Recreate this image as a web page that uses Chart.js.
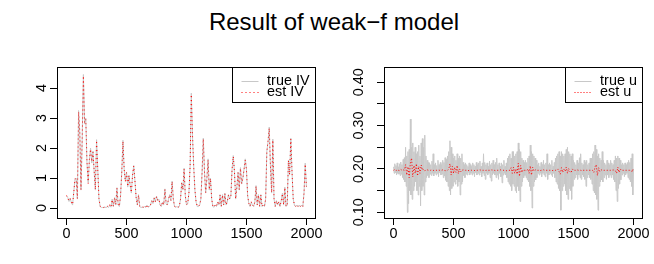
<!DOCTYPE html>
<html>
<head>
<meta charset="utf-8">
<script src="https://cdn.jsdelivr.net/npm/chart.js@4"></script>
<style>
body{margin:0;background:#fff;font-family:"Liberation Sans",Arial,sans-serif;}
#wrap{position:relative;width:654px;height:264px;}
#title{position:absolute;left:7px;top:8px;width:654px;text-align:center;font-size:24px;line-height:28px;color:#000;}
.panel{position:absolute;top:0;width:327px;height:264px;}
</style>
</head>
<body>
<div id="wrap">
  <div id="title">Result of weak−f model</div>
  <div class="panel" style="left:0"><canvas id="left" width="327" height="264"></canvas></div>
  <div class="panel" style="left:327px"><canvas id="right" width="327" height="264"></canvas></div>
</div>
<script>
// time index step between stored points
var ivStep = 10;
var uStep = 5;
var estUStep = 10;

var xTicks = [0, 500, 1000, 1500, 2000];
var xTickLabels = ["0", "500", "1000", "1500", "2000"];
var ivTicks = [0, 1, 2, 3, 4];
var ivTickLabels = ["0", "1", "2", "3", "4"];
var uTicks = [0.10, 0.15, 0.20, 0.25, 0.30, 0.35, 0.40];
var uTickLabels = ["0.10", "", "0.20", "", "0.30", "", "0.40"];

var trueIV = [
  0.40,0.35,0.22,0.33,0.18,0.10,0.55,0.95,1.00,0.30,
  3.25,2.50,0.60,2.30,4.45,2.80,3.00,1.50,0.85,1.60,
  2.00,1.50,1.90,1.20,0.60,2.28,1.30,0.30,0.05,0.02,
  0.02,0.02,0.03,0.02,0.05,0.02,0.10,0.03,0.30,0.05,
  0.35,0.10,0.68,0.12,0.05,0.40,1.20,2.26,1.30,0.90,
  1.20,0.70,1.10,0.75,0.50,1.10,1.42,0.90,0.35,0.10,
  0.45,0.05,0.02,0.03,0.02,0.05,0.02,0.10,0.03,0.05,
  0.10,0.25,0.15,0.35,0.20,0.40,0.25,0.30,0.10,0.05,
  0.20,0.10,0.64,0.15,0.10,0.30,0.45,0.25,0.90,0.30,
  0.05,0.03,0.05,0.02,0.05,0.30,0.85,0.60,1.33,0.40,
  0.10,0.15,0.50,1.40,3.83,2.40,1.40,0.60,0.20,0.05,
  0.05,0.10,0.30,1.20,2.33,1.20,0.50,1.00,1.64,0.60,
  1.00,0.30,0.05,0.03,0.10,0.05,0.20,0.10,0.45,0.05,
  0.45,0.10,0.50,0.10,0.20,0.45,0.30,0.40,1.30,1.75,
  1.20,0.30,0.70,1.20,0.60,1.35,0.80,1.00,1.30,1.64,
  1.30,0.40,0.15,0.05,0.20,0.10,0.05,0.20,0.75,0.10,
  0.45,0.05,0.45,0.05,0.10,0.05,0.30,1.90,2.20,2.70,
  1.40,0.50,2.30,0.30,0.05,0.25,0.10,0.20,0.05,0.25,
  0.50,0.10,0.70,0.05,0.10,1.60,1.10,2.33,1.20,0.30,
  0.10,0.05,0.10,0.05,0.10,0.05,0.10,0.05,0.50,1.50,0.70
];
var estIV = [
  0.42,0.33,0.24,0.31,0.20,0.12,0.52,0.98,0.96,0.32,
  3.20,2.55,0.62,2.25,4.40,2.85,2.95,1.55,0.82,1.62,
  1.96,1.55,1.86,1.24,0.62,2.25,1.28,0.32,0.06,0.03,
  0.03,0.02,0.04,0.03,0.06,0.03,0.11,0.04,0.28,0.06,
  0.33,0.12,0.66,0.13,0.06,0.42,1.18,2.22,1.32,0.88,
  1.18,0.72,1.08,0.78,0.52,1.08,1.40,0.92,0.36,0.11,
  0.43,0.06,0.03,0.04,0.03,0.06,0.03,0.11,0.04,0.06,
  0.11,0.24,0.16,0.33,0.21,0.38,0.26,0.29,0.11,0.06,
  0.21,0.11,0.62,0.16,0.11,0.29,0.44,0.26,0.88,0.31,
  0.06,0.04,0.06,0.03,0.06,0.29,0.83,0.62,1.30,0.42,
  0.11,0.16,0.48,1.38,3.78,2.45,1.38,0.62,0.21,0.06,
  0.06,0.11,0.31,1.18,2.30,1.22,0.52,0.98,1.60,0.62,
  0.98,0.31,0.06,0.04,0.11,0.06,0.21,0.11,0.43,0.06,
  0.43,0.11,0.48,0.11,0.21,0.43,0.31,0.41,1.28,1.72,
  1.22,0.31,0.68,1.18,0.62,1.32,0.82,0.98,1.28,1.60,
  1.28,0.42,0.16,0.06,0.21,0.11,0.06,0.21,0.73,0.11,
  0.43,0.06,0.43,0.06,0.11,0.06,0.29,1.86,2.24,2.66,
  1.42,0.52,2.26,0.31,0.06,0.24,0.11,0.21,0.06,0.24,
  0.48,0.11,0.68,0.06,0.11,1.58,1.12,2.30,1.22,0.31,
  0.11,0.06,0.11,0.06,0.11,0.06,0.11,0.06,0.48,1.46,0.72
];

var trueU = [
  0.205,0.19,0.212,0.192,0.208,0.186,0.214,0.19,0.205,0.188,
  0.212,0.185,0.216,0.188,0.21,0.18,0.222,0.176,0.226,0.17,
  0.25,0.16,0.23,0.10,0.24,0.12,0.245,0.15,0.315,0.14,
  0.25,0.13,0.26,0.15,0.24,0.16,0.25,0.17,0.235,0.15,
  0.24,0.14,0.255,0.16,0.23,0.115,0.26,0.15,0.27,0.16,
  0.25,0.14,0.278,0.17,0.23,0.18,0.22,0.185,0.215,0.18,
  0.214,0.188,0.21,0.185,0.218,0.19,0.235,0.184,0.21,0.19,
  0.214,0.186,0.208,0.19,0.22,0.182,0.21,0.192,0.215,0.186,
  0.21,0.188,0.22,0.18,0.215,0.184,0.226,0.174,0.222,0.17,
  0.23,0.16,0.24,0.15,0.265,0.14,0.25,0.155,0.235,0.16,
  0.225,0.17,0.23,0.165,0.22,0.175,0.235,0.16,0.225,0.17,
  0.23,0.14,0.225,0.165,0.235,0.17,0.215,0.185,0.21,0.18,
  0.214,0.188,0.21,0.186,0.206,0.192,0.214,0.186,0.21,0.19,
  0.206,0.186,0.214,0.19,0.21,0.182,0.206,0.192,0.215,0.186,
  0.21,0.19,0.214,0.186,0.218,0.192,0.206,0.182,0.214,0.19,
  0.235,0.185,0.215,0.176,0.21,0.19,0.214,0.186,0.206,0.19,
  0.218,0.18,0.21,0.172,0.214,0.186,0.22,0.19,0.21,0.186,
  0.215,0.18,0.225,0.186,0.21,0.176,0.214,0.19,0.206,0.182,
  0.214,0.168,0.21,0.186,0.22,0.19,0.206,0.186,0.214,0.18,
  0.225,0.17,0.23,0.165,0.235,0.16,0.225,0.15,0.24,0.165,
  0.24,0.16,0.23,0.15,0.235,0.145,0.24,0.16,0.26,0.15,
  0.245,0.125,0.24,0.16,0.225,0.17,0.22,0.18,0.215,0.185,
  0.22,0.18,0.215,0.175,0.225,0.17,0.23,0.16,0.255,0.15,
  0.24,0.11,0.235,0.16,0.23,0.17,0.225,0.175,0.22,0.18,
  0.21,0.19,0.214,0.186,0.206,0.19,0.215,0.182,0.21,0.19,
  0.22,0.186,0.21,0.182,0.214,0.19,0.235,0.176,0.21,0.186,
  0.214,0.19,0.21,0.186,0.22,0.182,0.206,0.19,0.215,0.18,
  0.225,0.17,0.23,0.165,0.235,0.155,0.24,0.15,0.23,0.105,
  0.24,0.15,0.235,0.16,0.23,0.165,0.235,0.15,0.245,0.14,
  0.25,0.13,0.24,0.155,0.235,0.15,0.23,0.13,0.235,0.16,
  0.22,0.176,0.215,0.18,0.21,0.186,0.22,0.176,0.214,0.186,
  0.226,0.18,0.235,0.176,0.214,0.186,0.21,0.182,0.22,0.176,
  0.215,0.16,0.22,0.18,0.21,0.186,0.214,0.18,0.225,0.176,
  0.225,0.165,0.235,0.15,0.24,0.145,0.255,0.14,0.245,0.13,
  0.23,0.105,0.235,0.16,0.225,0.17,0.22,0.175,0.24,0.17,
  0.22,0.18,0.214,0.186,0.21,0.176,0.22,0.186,0.214,0.18,
  0.21,0.186,0.22,0.18,0.214,0.186,0.21,0.176,0.22,0.17,
  0.23,0.15,0.225,0.125,0.23,0.155,0.225,0.165,0.22,0.175,
  0.21,0.186,0.214,0.19,0.21,0.182,0.214,0.186,0.21,0.19,
  0.215,0.18,0.22,0.176,0.215,0.17,0.225,0.16,0.235,0.14,
  0.20
];
var estU = [
  0.197,0.199,0.196,0.198,0.197,0.196,0.199,0.197,0.198,0.197,
  0.210,0.186,0.205,0.180,0.214,0.225,0.182,0.208,0.190,0.212,
  0.184,0.206,0.190,0.209,0.197,0.200,0.196,0.197,0.198,0.197,
  0.197,0.197,0.198,0.197,0.196,0.197,0.197,0.198,0.197,0.197,
  0.197,0.198,0.197,0.196,0.197,0.197,0.200,0.212,0.186,0.206,
  0.190,0.204,0.192,0.208,0.189,0.200,0.193,0.197,0.198,0.197,
  0.197,0.197,0.196,0.197,0.198,0.197,0.197,0.197,0.196,0.197,
  0.197,0.197,0.198,0.197,0.197,0.197,0.196,0.197,0.197,0.197,
  0.197,0.197,0.198,0.197,0.197,0.196,0.197,0.197,0.197,0.198,
  0.197,0.197,0.197,0.197,0.196,0.197,0.197,0.197,0.203,0.190,
  0.204,0.190,0.200,0.188,0.213,0.183,0.208,0.192,0.198,0.197,
  0.197,0.196,0.200,0.190,0.207,0.186,0.204,0.195,0.198,0.197,
  0.197,0.197,0.196,0.197,0.197,0.198,0.197,0.197,0.197,0.197,
  0.197,0.197,0.197,0.196,0.197,0.197,0.197,0.200,0.194,0.188,
  0.203,0.192,0.200,0.195,0.204,0.190,0.201,0.194,0.191,0.200,
  0.197,0.197,0.197,0.198,0.197,0.197,0.197,0.196,0.197,0.197,
  0.197,0.197,0.197,0.197,0.197,0.196,0.197,0.192,0.205,0.210,
  0.185,0.203,0.194,0.198,0.197,0.197,0.197,0.197,0.197,0.197,
  0.197,0.197,0.197,0.198,0.197,0.196,0.190,0.204,0.192,0.200,
  0.197,0.197,0.197,0.197,0.197,0.197,0.197,0.197,0.197,0.193,0.203
];

var FONT = "'Liberation Sans', Arial, sans-serif";

function pts(arr, step){
  return arr.map(function(v, i){ return {x: i * step, y: v}; });
}

// R style box round the plot region
var boxPlugin = {
  id: 'rbox',
  afterDraw: function(c){
    var a = c.chartArea, ctx = c.ctx;
    ctx.save();
    ctx.strokeStyle = '#000';
    ctx.lineWidth = 1;
    ctx.strokeRect(Math.round(a.left) + 0.5, Math.round(a.top) + 0.5,
                   Math.round(a.right - a.left) - 1, Math.round(a.bottom - a.top));
    ctx.restore();
  }
};

// legend in the top right corner, like legend("topright", ...)
var rLegend = {
  id: 'rlegend',
  afterDraw: function(c){
    var ctx = c.ctx, a = c.chartArea;
    var ds = c.data.datasets;
    ctx.save();
    ctx.font = "14.4px " + FONT;
    var tw = 0;
    ds.forEach(function(d){ tw = Math.max(tw, ctx.measureText(d.label).width); });
    var w = Math.round(34.6 + tw + 6), h = 35;
    var right = Math.round(a.right) - 0.5, top = Math.round(a.top) + 0.5;
    var left = right - w;
    ctx.fillStyle = '#fff';
    ctx.fillRect(left, top, w, h);
    ctx.strokeStyle = '#000';
    ctx.lineWidth = 1;
    ctx.strokeRect(left, top, w, h);
    var rows = [13.7, 24.7];
    ds.forEach(function(d, i){
      var y = top + rows[i];
      ctx.beginPath();
      ctx.strokeStyle = d.borderColor;
      ctx.setLineDash(d.borderDash || []);
      ctx.moveTo(left + 9, Math.round(y) + 0.5);
      ctx.lineTo(left + 26, Math.round(y) + 0.5);
      ctx.stroke();
      ctx.setLineDash([]);
      ctx.fillStyle = '#000';
      ctx.textBaseline = 'middle';
      ctx.textAlign = 'left';
      ctx.fillText(d.label, left + 34.6, y);
    });
    ctx.restore();
  }
};

function makePanel(id, trueData, estData, names, dash, yMin, yMax, yTicks, yLabels){
  var ctx = document.getElementById(id).getContext('2d');
  return new Chart(ctx, {
    type: 'line',
    data: {
      datasets: [{
        label: names[0],
        data: trueData,
        borderColor: '#c8c8c8',
        borderWidth: 1,
        pointRadius: 0,
        tension: 0,
        order: 2
      }, {
        label: names[1],
        data: estData,
        borderColor: '#ff0000',
        borderWidth: 1,
        borderDash: dash,
        pointRadius: 0,
        tension: 0,
        order: 1
      }]
    },
    options: {
      responsive: false,
      animation: false,
      layout: { padding: { top: 67, right: 11, left: 0, bottom: 0 } },
      plugins: { legend: { display: false }, tooltip: { enabled: false } },
      scales: {
        x: {
          type: 'linear',
          min: -80,
          max: 2080,
          afterBuildTicks: function(s){ s.ticks = xTicks.map(function(v){ return {value: v}; }); },
          afterFit: function(s){ s.height = 46; },
          grid: { drawOnChartArea: false, color: '#000', tickLength: 7 },
          border: { display: false },
          ticks: { color: '#000', font: { family: FONT, size: 14.4 }, padding: 0,
                   maxRotation: 0, autoSkip: false,
                   callback: function(v, i){ return xTickLabels[i]; } }
        },
        y: {
          min: yMin,
          max: yMax,
          afterBuildTicks: function(s){ s.ticks = yTicks.map(function(v){ return {value: v}; }); },
          afterFit: function(s){ s.width = 57; },
          grid: { drawOnChartArea: false, color: '#000', tickLength: 7 },
          border: { display: false },
          ticks: { color: '#000', font: { family: FONT, size: 14.4 }, padding: 4,
                   minRotation: 90, maxRotation: 90, crossAlign: 'center', autoSkip: false,
                   callback: function(v, i){ return yLabels[i]; } }
        }
      }
    },
    plugins: [boxPlugin, rLegend]
  });
}

makePanel('left', pts(trueIV, ivStep), pts(estIV, ivStep), ['true IV', 'est IV'], [1, 3],
          -0.33, 4.7, ivTicks, ivTickLabels);
makePanel('right', pts(trueU, uStep), pts(estU, estUStep), ['true u', 'est u'], [1, 2],
          0.087, 0.435, uTicks, uTickLabels);
</script>
</body>
</html>
